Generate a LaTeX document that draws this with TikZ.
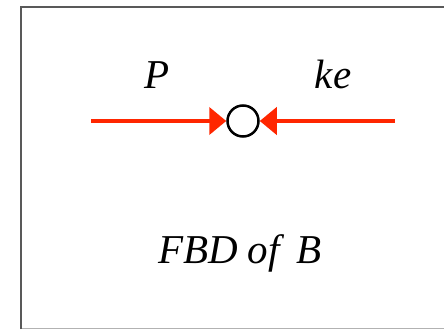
\documentclass[tikz,border=0pt]{standalone}
\usepackage{fontspec}
\setmainfont{Liberation Serif}
\usetikzlibrary{arrows.meta}
\definecolor{forcered}{RGB}{255,38,0}
\begin{document}
\begin{tikzpicture}[x=1pt,y=-1pt,
  force/.style={draw=forcered,line width=4pt,-{Triangle[length=17pt,width=27pt]}},
  lbl/.style={font=\fontsize{41}{41}\selectfont\itshape,anchor=base,inner sep=0pt}]
\useasboundingbox (0,0) rectangle (444,329);
\draw[gray!60,line width=1pt] (21,328) -- (444,328);
\draw[black!65,line width=2pt] (21,329) -- (21,7) -- (444,7);
\node[circle,draw=black,line width=2.5pt,minimum size=31pt,inner sep=0pt] (B) at (243,121) {};
\coordinate (L) at (91,121);
\coordinate (R) at (395,121);
\draw[force] (L) -- (B.west);
\draw[force] (R) -- (B.east);
\node[lbl] (P) at (157,88) {P};
\node[lbl] (ke) at (333,88) {ke};
\node[lbl] (fbd) at (240,263) {FBD of\, B};
\end{tikzpicture}
\end{document}
